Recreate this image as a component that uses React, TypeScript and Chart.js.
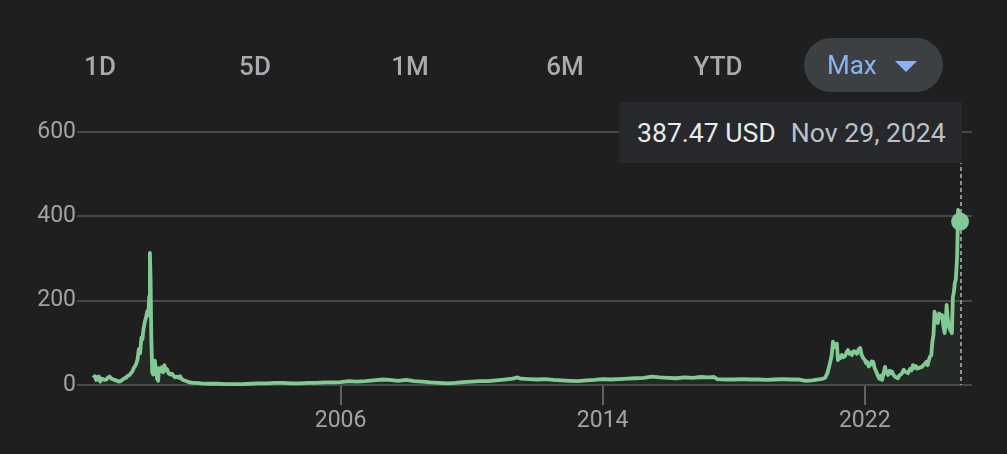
import React, { useEffect, useRef } from 'react';
import { Chart, registerables } from 'chart.js';
Chart.register(...registerables);

// ---- data (decimal years, split-adjusted USD) ----
const dates1 = [1998.45, 1998.5, 1998.54, 1998.58, 1998.62, 1998.66, 1998.7, 1998.75, 1998.8, 1998.85, 1998.9, 1998.95, 1999.0, 1999.05, 1999.1, 1999.15, 1999.2, 1999.25, 1999.3, 1999.35, 1999.4, 1999.45, 1999.5, 1999.55, 1999.6, 1999.65, 1999.7, 1999.75, 1999.8, 1999.84, 1999.88, 1999.92, 1999.95, 1999.98, 2000.02, 2000.06, 2000.1, 2000.13, 2000.16, 2000.18, 2000.2, 2000.22, 2000.25, 2000.28, 2000.31, 2000.33, 2000.36, 2000.4, 2000.43, 2000.46, 2000.5, 2000.54, 2000.58, 2000.62, 2000.66, 2000.7, 2000.75, 2000.8, 2000.85, 2000.9, 2000.95, 2001.0, 2001.05, 2001.1, 2001.15, 2001.2, 2001.3, 2001.4, 2001.5, 2001.6];
const prices1 = [17, 21, 12, 19, 20, 8, 15, 14, 12, 13, 18, 20, 15, 14, 12, 11, 9, 8, 10, 13, 16, 17, 22, 23, 28, 33, 42, 48, 60, 85, 75, 112, 108, 130, 148, 160, 175, 165, 210, 313, 250, 120, 30, 25, 50, 58, 40, 15, 10, 40, 33, 42, 30, 47, 35, 38, 28, 25, 27, 22, 18, 20, 17, 21, 14, 12, 9, 6, 5, 5];

const dates2 = [2001.75, 2002.0, 2002.25, 2002.5, 2002.75, 2003.0, 2003.25, 2003.5, 2003.75, 2004.0, 2004.25, 2004.5, 2004.75, 2005.0, 2005.25, 2005.5, 2005.75, 2006.0, 2006.25, 2006.5, 2006.75, 2007.0, 2007.25, 2007.5, 2007.75, 2008.0, 2008.25, 2008.5, 2008.75, 2009.0, 2009.25, 2009.5, 2009.75, 2010.0, 2010.25, 2010.5, 2010.75, 2011.0, 2011.25, 2011.4, 2011.5, 2011.75, 2012.0, 2012.25, 2012.5, 2012.75, 2013.0, 2013.25, 2013.5, 2013.75, 2014.0, 2014.25, 2014.5, 2014.75, 2015.0, 2015.25, 2015.5, 2015.75, 2016.0, 2016.25, 2016.5, 2016.75, 2017.0, 2017.25, 2017.4, 2017.5, 2017.75, 2018.0, 2018.25, 2018.5, 2018.75, 2019.0, 2019.25, 2019.5, 2019.75, 2020.0, 2020.2, 2020.4];
const prices2 = [4, 3, 3, 2, 2, 2, 3, 4, 4, 5, 5, 4, 4, 5, 5, 6, 6, 7, 9, 8, 9, 11, 13, 12, 10, 12, 9, 8, 6, 5, 4, 5, 7, 8, 9, 9, 11, 13, 15, 18, 15, 14, 13, 14, 12, 11, 10, 9, 11, 12, 14, 13, 14, 15, 16, 17, 20, 18, 17, 16, 18, 17, 19, 18, 19, 14, 13, 13, 14, 13, 13, 12, 13, 14, 13, 13, 10, 11];

const dates3 = [2020.55, 2020.65, 2020.72, 2020.79, 2020.86, 2020.94, 2020.99, 2021.03, 2021.07, 2021.11, 2021.15, 2021.18, 2021.22, 2021.26, 2021.3, 2021.35, 2021.4, 2021.45, 2021.49, 2021.53, 2021.57, 2021.61, 2021.66, 2021.71, 2021.76, 2021.81, 2021.86, 2021.9, 2021.95, 2022.0, 2022.04, 2022.07, 2022.12, 2022.16, 2022.21, 2022.26, 2022.3, 2022.35, 2022.41, 2022.45, 2022.49, 2022.53, 2022.58, 2022.62, 2022.66, 2022.71, 2022.76, 2022.8, 2022.83, 2022.88, 2022.92, 2022.96, 2023.01, 2023.05, 2023.1, 2023.14, 2023.19, 2023.23, 2023.28, 2023.32, 2023.38, 2023.43, 2023.47, 2023.52, 2023.56, 2023.59, 2023.64, 2023.7, 2023.75, 2023.8, 2023.84, 2023.88, 2023.92, 2023.96, 2023.99, 2024.03, 2024.06, 2024.1, 2024.13, 2024.16, 2024.19, 2024.23, 2024.27, 2024.31, 2024.36, 2024.4, 2024.44, 2024.47, 2024.5, 2024.53, 2024.57, 2024.61, 2024.66, 2024.69, 2024.72, 2024.75, 2024.78, 2024.82, 2024.85, 2024.88, 2024.91];
const prices3 = [13, 14, 15, 17, 28, 52, 70, 103, 90, 96, 98, 59, 68, 64, 71, 66, 69, 78, 83, 74, 77, 71, 80, 79, 74, 84, 88, 73, 64, 60, 52, 55, 44, 47, 56, 55, 40, 32, 20, 15, 22, 12, 30, 43, 30, 24, 34, 28, 32, 24, 20, 18, 16, 22, 25, 28, 36, 32, 30, 28, 38, 35, 47, 41, 45, 39, 40, 42, 43, 48, 51, 55, 47, 60, 67, 70, 100, 120, 174, 165, 150, 147, 170, 160, 166, 140, 123, 150, 190, 160, 138, 130, 123, 209, 220, 242, 250, 304, 415, 399, 387.47];

const yTicks = [0, 200, 400, 600];
const xTicks = [2006, 2014, 2022];
const rangeButtons = ['1D', '5D', '1M', '6M', 'YTD'];
const selectedRange = 'Max';
const tooltipPrice = '387.47 USD';
const tooltipDate = 'Nov 29, 2024';

const BG = '#1f1f1f';
const GREEN = '#81c995';
const FONT = 'Roboto, "Noto Sans", sans-serif';

export default function App() {
  const canvasRef = useRef<HTMLCanvasElement | null>(null);

  useEffect(() => {
    document.body.style.margin = '0';
    document.body.style.background = BG;
    const dates = [...dates1, ...dates2, ...dates3];
    const prices = [...prices1, ...prices2, ...prices3];
    const points = dates.map((d, i) => ({ x: d, y: prices[i] }));
    const last = points.length - 1;

    const crosshair = {
      id: 'crosshair',
      beforeDatasetsDraw(chart: any) {
        const meta = chart.getDatasetMeta(0);
        const pt = meta.data[last];
        if (!pt) return;
        const ctx = chart.ctx;
        ctx.save();
        ctx.strokeStyle = '#8e9196';
        ctx.lineWidth = 2;
        ctx.setLineDash([4, 3]);
        ctx.beginPath();
        ctx.moveTo(Math.round(pt.x) + 1, chart.chartArea.top);
        ctx.lineTo(Math.round(pt.x) + 1, chart.chartArea.bottom);
        ctx.stroke();
        ctx.restore();
      },
    };

    const chart = new Chart(canvasRef.current as HTMLCanvasElement, {
      type: 'line',
      data: {
        datasets: [
          {
            data: points,
            borderColor: GREEN,
            borderWidth: 3.8,
            borderJoinStyle: 'round',
            backgroundColor: 'rgba(129,201,149,0.06)',
            fill: 'origin',
            tension: 0,
            clip: false as any,
            pointRadius: (ctx: any) => (ctx.dataIndex === last ? 9 : 0),
            pointHoverRadius: 0,
            pointBackgroundColor: GREEN,
            pointBorderWidth: 0,
          },
        ],
      },
      options: {
        responsive: false,
        animation: false,
        events: [],
        layout: { padding: { top: 132, right: 35, left: 0, bottom: 0 } },
        plugins: { legend: { display: false }, tooltip: { enabled: false } },
        scales: {
          x: {
            type: 'linear',
            min: 1997.954,
            max: 2025.274,
            afterBuildTicks: (s: any) => {
              s.ticks = xTicks.map((v) => ({ value: v }));
            },
            afterFit: (s: any) => {
              s.height = 69;
            },
            grid: { drawOnChartArea: false, drawTicks: true, tickLength: 20, color: '#5f6368', lineWidth: 2 },
            border: { display: false },
            ticks: {
              color: '#a0a3a7',
              font: { family: FONT, size: 23 },
              padding: 2,
              maxRotation: 0,
              autoSkip: false,
              callback: (v: any) => String(v),
            },
          },
          y: {
            min: 0,
            max: 600,
            afterBuildTicks: (s: any) => {
              s.ticks = yTicks.map((v) => ({ value: v }));
            },
            afterFit: (s: any) => {
              s.width = 77;
            },
            grid: { color: '#46484b', lineWidth: 2, drawTicks: false },
            border: { display: false },
            ticks: {
              color: '#a0a3a7',
              font: { family: FONT, size: 23 },
              padding: 1,
              callback: (v: any) => String(v),
            },
          },
        },
      },
      plugins: [crosshair],
    });
    return () => chart.destroy();
  }, []);

  const centers = [100, 255, 410, 565, 718];

  return (
    <div style={{ position: 'relative', width: 1007, height: 454, background: BG, overflow: 'hidden', fontFamily: FONT }}>
      <canvas ref={canvasRef} width={1007} height={454} style={{ position: 'absolute', left: 0, top: 0 }} />
      {rangeButtons.map((b, i) => (
        <div
          key={b}
          style={{
            position: 'absolute',
            left: centers[i] - 60,
            top: 46,
            width: 120,
            height: 40,
            lineHeight: '40px',
            textAlign: 'center',
            color: '#a8abaf',
            fontSize: 26,
            fontWeight: 500,
          }}
        >
          {b}
        </div>
      ))}
      <div
        style={{
          position: 'absolute',
          left: 804,
          top: 38,
          width: 139,
          height: 54,
          borderRadius: 27,
          background: '#3c4043',
        }}
      >
        <div style={{ position: 'absolute', left: 23, top: 7, height: 40, lineHeight: '40px', color: '#8ab4f8', fontSize: 26 }}>
          {selectedRange}
        </div>
        <div
          style={{
            position: 'absolute',
            left: 91,
            top: 23,
            width: 0,
            height: 0,
            borderLeft: '11px solid transparent',
            borderRight: '11px solid transparent',
            borderTop: '11px solid #8ab4f8',
          }}
        />
      </div>
      <div
        style={{
          position: 'absolute',
          left: 619,
          top: 102,
          width: 343,
          height: 61,
          background: '#26282c',
          display: 'flex',
          alignItems: 'center',
          boxSizing: 'border-box',
          paddingLeft: 18,
          fontSize: 26.6,
          whiteSpace: 'nowrap',
        }}
      >
        <span style={{ color: '#e8eaed' }}>{tooltipPrice}</span>
        <span style={{ color: '#bdc1c6', marginLeft: 15 }}>{tooltipDate}</span>
      </div>
    </div>
  );
}
